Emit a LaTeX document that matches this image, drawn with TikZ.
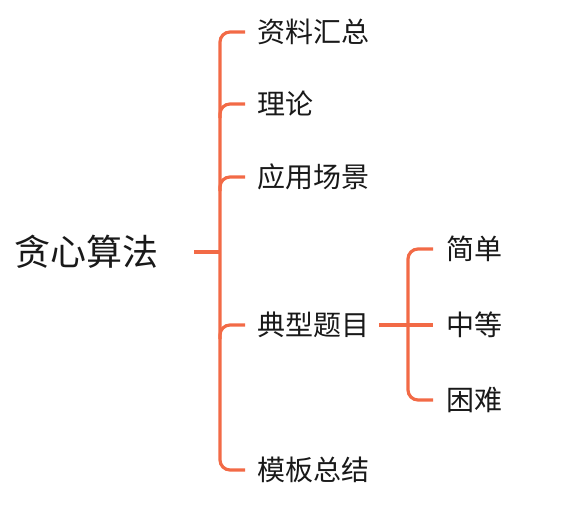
\documentclass[tikz,border=0pt]{standalone}
\usepackage{fontspec}
\setmainfont{Noto Sans CJK SC}
\definecolor{brc}{RGB}{242,106,70}
\definecolor{txt}{RGB}{25,25,25}
\begin{document}
\begin{tikzpicture}[x=1pt,y=-1pt,
  br/.style={draw=brc,line width=3.2pt},
  leaf/.style={anchor=west,inner sep=0pt,text=txt,font=\fontsize{28}{30}\selectfont},
  rootnode/.style={anchor=west,inner sep=0pt,text=txt,font=\fontsize{36}{40}\selectfont}]
\useasboundingbox (0,0) rectangle (568,504);
\node[rootnode] (root) at (14,252) {贪心算法};
\node[leaf] (n1) at (257,32) {资料汇总};
\node[leaf] (n2) at (257,104) {理论};
\node[leaf] (n3) at (257,177) {应用场景};
\node[leaf] (n4) at (257,325) {典型题目};
\node[leaf] (n5) at (257,470) {模板总结};
\node[leaf] (c1) at (446,249) {简单};
\node[leaf] (c2) at (446,325) {中等};
\node[leaf] (c3) at (446,400) {困难};
\coordinate (bx) at (220,0);
\coordinate (cx) at (408,0);
% main bracket
\draw[br] (194,252) -- (bx |- root.west);
\draw[br,rounded corners=10] ([xshift=-12]n1.west) -| (bx |- n5.west) -- ([xshift=-12]n5.west);
\foreach \n in {n2,n3,n4}
  \draw[br,rounded corners=10] ([yshift=-14]bx |- \n.west) -- (bx |- \n.west) -- ([xshift=-12]\n.west);
% sub bracket
\draw[br] ([xshift=10]n4.east) -- ([xshift=-13]c2.west);
\draw[br,rounded corners=10] ([xshift=-13]c1.west) -| (cx |- c3.west) -- ([xshift=-13]c3.west);
\end{tikzpicture}
\end{document}
